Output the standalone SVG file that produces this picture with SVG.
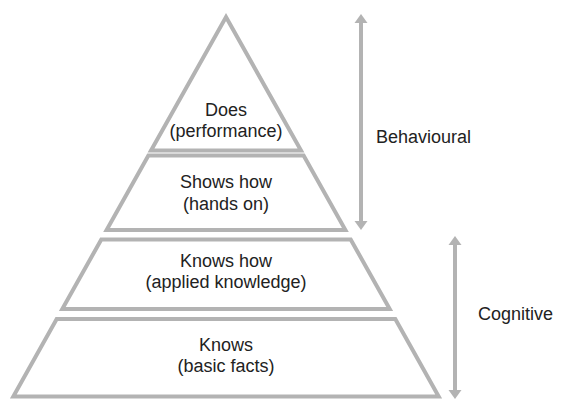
<svg xmlns="http://www.w3.org/2000/svg" width="569" height="412" viewBox="0 0 569 412">
  <style>
    .lvl { fill: #ffffff; stroke: #b3b3b3; stroke-width: 4; stroke-linejoin: miter; }
    .lbl { font-family: "Liberation Sans", Arial, sans-serif; font-size: 18px; fill: #222222; text-anchor: middle; }
    .side { font-family: "Liberation Sans", Arial, sans-serif; font-size: 18px; fill: #222222; }
    .arr { stroke: #b3b3b3; stroke-width: 4; fill: none; marker-start: url(#head); marker-end: url(#head); }
  </style>
  <defs>
    <marker id="head" viewBox="0 -6.5 9 13" markerWidth="9" markerHeight="13" refX="0" refY="0" orient="auto-start-reverse" markerUnits="userSpaceOnUse" overflow="visible">
      <path d="M0,-6.5 L9,0 L0,6.5 z" fill="#b3b3b3"/>
    </marker>
  </defs>
  <rect width="569" height="412" fill="#ffffff"/>
  <g id="does">
    <polygon class="lvl" points="226,17 301,150.5 151,150.5"/>
    <text class="lbl" x="226" y="116">Does</text>
    <text class="lbl" x="226" y="137">(performance)</text>
  </g>
  <g id="shows-how">
    <polygon class="lvl" points="148.4,155.5 303.6,155.5 345.4,230 106.6,230"/>
    <text class="lbl" x="226" y="188">Shows how</text>
    <text class="lbl" x="226" y="210">(hands on)</text>
  </g>
  <g id="knows-how">
    <polygon class="lvl" points="101.3,239.5 350.7,239.5 389.7,309 62.3,309"/>
    <text class="lbl" x="226" y="267">Knows how</text>
    <text class="lbl" x="226" y="288">(applied knowledge)</text>
  </g>
  <g id="knows">
    <polygon class="lvl" points="56.7,319 395.3,319 438.7,396.5 13.3,396.5"/>
    <text class="lbl" x="226" y="351">Knows</text>
    <text class="lbl" x="226" y="372">(basic facts)</text>
  </g>
  <g id="connectors">
    <g id="behavioural">
      <line class="arr" x1="361" y1="23" x2="361" y2="221"/>
      <text class="side" x="376" y="143">Behavioural</text>
    </g>
    <g id="cognitive">
      <line class="arr" x1="455" y1="245" x2="455" y2="390"/>
      <text class="side" x="478" y="320">Cognitive</text>
    </g>
  </g>
</svg>
